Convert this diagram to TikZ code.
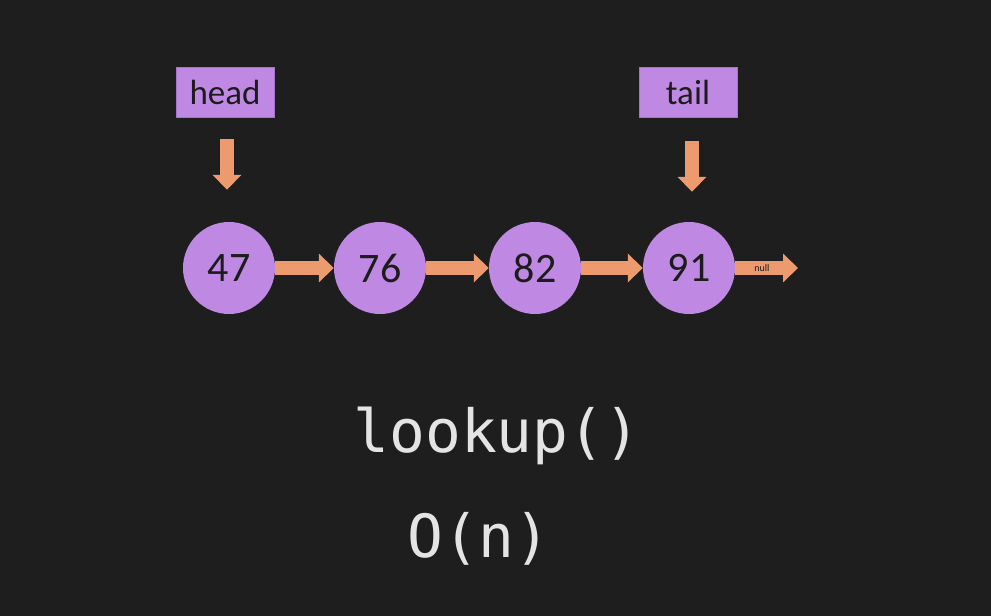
\documentclass[tikz,border=0pt]{standalone}
\usepackage{fontspec}
\setmainfont{Carlito}
\newfontfamily\codefont{DejaVu Sans Mono}
\usetikzlibrary{arrows.meta}
\definecolor{bg}{HTML}{1E1E1E}
\definecolor{nodefill}{HTML}{BF89E3}
\definecolor{nodeedge}{HTML}{A574C9}
\definecolor{ptr}{HTML}{EC9A6E}
\definecolor{ink}{HTML}{1C1C1C}
\definecolor{code}{HTML}{E4E4E4}
\tikzset{
  listnode/.style={circle, fill=nodefill, minimum size=92pt, inner sep=0pt,
    font=\fontsize{42}{42}\selectfont, text=ink},
  label box/.style={rectangle, fill=nodefill, draw=nodeedge, line width=0.8pt,
    minimum width=98pt, minimum height=50pt, inner sep=0pt,
    font=\fontsize{35}{35}\selectfont, text=ink},
  pointer/.style={draw=ptr, line width=14pt,
    -{Triangle[length=15pt,width=28pt]}},
  codetext/.style={font=\codefont\fontsize{59.5}{59.5}\selectfont, text=code,
    inner sep=0pt, anchor=base}
}
\begin{document}
\begin{tikzpicture}[x=1pt,y=-1pt]
  % canvas
  \fill[bg] (0,0) rectangle (991,616);
  \useasboundingbox (0,0) rectangle (991,616);

  % list nodes
  \node[listnode] (n1) at (229,268) {47};
  \node[listnode] (n2) at (380,268) {76};
  \node[listnode] (n3) at (535,268) {82};
  \node[listnode] (n4) at (689,268) {91};
  \coordinate (nullend) at (798,268);

  % head / tail labels
  \node[label box] (head) at (225,92) {head};
  \node[label box] (tail) at (688,92) {tail};

  % next pointers
  \draw[pointer] (n1.east) -- (n2.west);
  \draw[pointer] (n2.east) -- (n3.west);
  \draw[pointer] (n3.east) -- (n4.west);
  \draw[pointer] (n4.east) -- (nullend);
  \node[font=\fontsize{10}{10}\selectfont, text=ink, inner sep=0pt] (nulltxt)
    at (762,268) {null};

  % head / tail pointers
  \draw[pointer] ([xshift=2pt,yshift=-22pt]head.south) -- ([xshift=-2pt,yshift=32pt]n1.north);
  \draw[pointer] ([xshift=4pt,yshift=-24pt]tail.south) -- ([xshift=3pt,yshift=30pt]n4.north);

  % operation and complexity
  \node[codetext] (op) at (497,452) {lookup()};
  \node[codetext] (cost) at (479,557) {O(n)};
\end{tikzpicture}
\end{document}
